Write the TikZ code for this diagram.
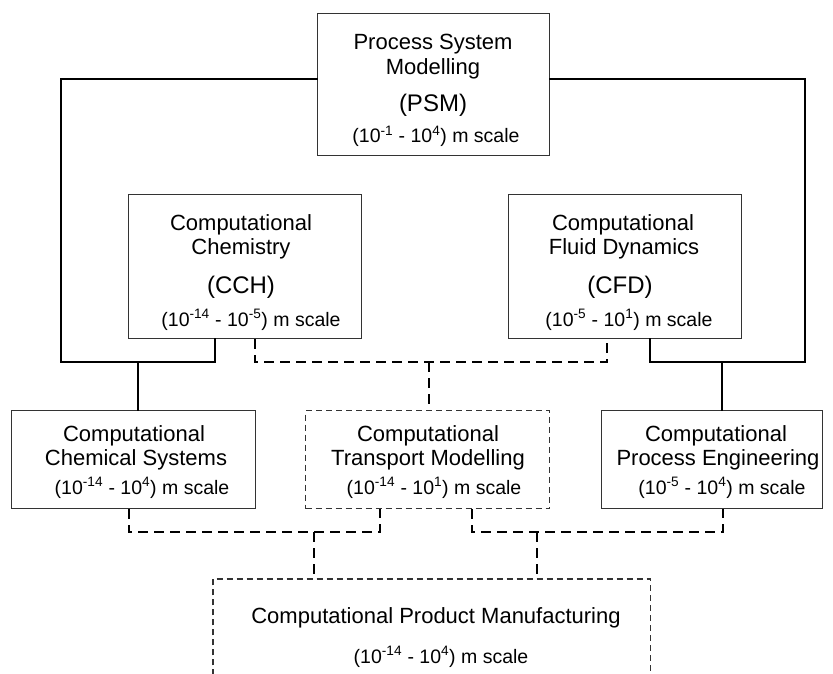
\documentclass[tikz,border=0pt]{standalone}
\usepackage{fontspec}
\setmainfont{Liberation Sans}
\begin{document}
\begin{tikzpicture}[x=1pt,y=-1pt,
  box/.style={draw=black!80, line width=1.1pt, anchor=north west, inner sep=0pt},
  dbox/.style={box, dash pattern=on 6pt off 4pt},
  link/.style={line width=2.4pt, line cap=rect},
  dlink/.style={line width=2.4pt, dash pattern=on 10pt off 6pt},
  ttl/.style={anchor=base, inner sep=0pt, font=\fontsize{22}{24}\selectfont},
  acr/.style={anchor=base, inner sep=0pt, font=\fontsize{24}{26}\selectfont},
  scl/.style={anchor=base, inner sep=0pt, font=\fontsize{19.5}{22}\selectfont}]
\useasboundingbox (0,0) rectangle (833,674);

% boxes
\node[box, minimum width=232pt, minimum height=142pt] (psm) at (317,13) {};
\node[box, minimum width=233pt, minimum height=144pt] (cch) at (128,194) {};
\node[box, minimum width=233pt, minimum height=144pt] (cfd) at (508,194) {};
\node[box, minimum width=244pt, minimum height=98pt] (ccs) at (11,410) {};
\node[dbox, minimum width=244pt, minimum height=98pt] (ctm) at (305,410) {};
\node[box, minimum width=221pt, minimum height=98pt] (cpe) at (601,410) {};
\node[anchor=north west, inner sep=0pt, minimum width=437pt, minimum height=96pt] (cpm) at (213,579) {};
\draw[black!80, line width=1.1pt, dash pattern=on 6pt off 4pt]
  (cpm.south west) -- (cpm.north west) -- (cpm.north east) -- (cpm.south east);

% texts
\node[ttl] (psm1) at (433,50) {Process System};
\node[ttl] (psm2) at (433,75) {Modelling};
\node[acr] (psm3) at (433,112) {(PSM)};
\node[scl] (psm4) at (436,143) {(10\textsuperscript{-1} - 10\textsuperscript{4}) m scale};

\node[ttl] (cch1) at (241,230) {Computational};
\node[ttl] (cch2) at (241,254) {Chemistry};
\node[acr] (cch3) at (241,293) {(CCH)};
\node[scl] (cch4) at (251,326) {(10\textsuperscript{-14} - 10\textsuperscript{-5}) m scale};

\node[ttl] (cfd1) at (623,230) {Computational};
\node[ttl] (cfd2) at (624,254) {Fluid Dynamics};
\node[acr] (cfd3) at (620,293) {(CFD)};
\node[scl] (cfd4) at (629,326) {(10\textsuperscript{-5} - 10\textsuperscript{1}) m scale};

\node[ttl] (ccs1) at (134,441) {Computational};
\node[ttl] (ccs2) at (136,465) {Chemical Systems};
\node[scl] (ccs3) at (142,494) {(10\textsuperscript{-14} - 10\textsuperscript{4}) m scale};

\node[ttl] (ctm1) at (428,441) {Computational};
\node[ttl] (ctm2) at (428,465) {Transport Modelling};
\node[scl] (ctm3) at (434,494) {(10\textsuperscript{-14} - 10\textsuperscript{1}) m scale};

\node[ttl] (cpe1) at (716,441) {Computational};
\node[ttl] (cpe2) at (718,465) {Process Engineering};
\node[scl] (cpe3) at (722,494) {(10\textsuperscript{-5} - 10\textsuperscript{4}) m scale};

\node[ttl] (cpm1) at (436,623) {Computational Product Manufacturing};
\node[scl] (cpm2) at (441,663) {(10\textsuperscript{-14} - 10\textsuperscript{4}) m scale};

% bend points of the connectors
\coordinate (lt) at (61,79);
\coordinate (lb) at (61,362);
\coordinate (rt) at (805,79);
\coordinate (rb) at (805,362);
\coordinate (mid) at (0,362);
\coordinate (low) at (0,532);

% solid connectors
\draw[link] (psm.west |- lt) -- (lt) -- (lb) -| ([xshift=87pt]cch.south west);
\draw[link] ([xshift=127pt]ccs.north west) -- ([xshift=127pt]ccs.north west |- mid);
\draw[link] (psm.east |- rt) -- (rt) -- (rb) -| ([xshift=142pt]cfd.south west);
\draw[link] ([xshift=121pt]cpe.north west) -- ([xshift=121pt]cpe.north west |- mid);

% dashed connectors
\draw[dlink] ([xshift=127pt]cch.south west) |- ([xshift=99pt]cfd.south west |- mid) -- ([xshift=99pt]cfd.south west);
\draw[dlink] ([xshift=124pt]ctm.north west |- mid) -- ([xshift=124pt]ctm.north west);
\draw[dlink] ([xshift=118pt]ccs.south west) |- ([xshift=75pt]ctm.south west |- low) -- ([xshift=75pt]ctm.south west);
\draw[dlink] ([xshift=167pt]ctm.south west) |- ([xshift=122pt]cpe.south west |- low) -- ([xshift=122pt]cpe.south west);
\draw[dlink] ([xshift=101pt]cpm.north west |- low) -- ([xshift=101pt]cpm.north west);
\draw[dlink] ([xshift=324pt]cpm.north west |- low) -- ([xshift=324pt]cpm.north west);
\end{tikzpicture}
\end{document}
